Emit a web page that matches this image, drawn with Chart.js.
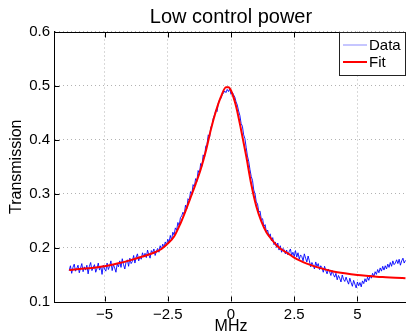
<!DOCTYPE html>
<html>
<head>
<meta charset="utf-8">
<script src="https://cdn.jsdelivr.net/npm/chart.js@4.4.1/dist/chart.umd.min.js"></script>
<style>
  html, body { margin: 0; padding: 0; background: #fff; overflow: hidden; }
  #wrap { width: 406px; height: 336px; overflow: hidden; }
</style>
</head>
<body>
<div id="wrap"><canvas id="lowPower" width="412" height="336"></canvas></div>
<script>
/* measured transmission vs detuning (MHz) */
const dataFreq = [
  -6.40,-6.35,-6.30,-6.25,-6.20,-6.15,-6.10,-6.05,-6.00,-5.95,
  -5.90,-5.85,-5.80,-5.75,-5.70,-5.65,-5.60,-5.55,-5.50,-5.45,
  -5.40,-5.35,-5.30,-5.25,-5.20,-5.15,-5.10,-5.05,-5.00,-4.95,
  -4.90,-4.85,-4.80,-4.75,-4.70,-4.65,-4.60,-4.55,-4.50,-4.45,
  -4.40,-4.35,-4.30,-4.25,-4.20,-4.15,-4.10,-4.05,-4.00,-3.95,
  -3.90,-3.85,-3.80,-3.75,-3.70,-3.65,-3.60,-3.55,-3.50,-3.45,
  -3.40,-3.35,-3.30,-3.25,-3.20,-3.15,-3.10,-3.05,-3.00,-2.95,
  -2.90,-2.85,-2.80,-2.75,-2.70,-2.65,-2.60,-2.55,-2.50,-2.45,
  -2.40,-2.35,-2.30,-2.25,-2.20,-2.15,-2.10,-2.05,-2.00,-1.95,
  -1.90,-1.85,-1.80,-1.75,-1.70,-1.65,-1.60,-1.55,-1.50,-1.45,
  -1.40,-1.35,-1.30,-1.25,-1.20,-1.15,-1.10,-1.05,-1.00,-0.95,
  -0.90,-0.85,-0.80,-0.75,-0.70,-0.65,-0.60,-0.55,-0.50,-0.45,
  -0.40,-0.35,-0.30,-0.25,-0.20,-0.15,-0.10,-0.05,0.00,0.05,
  0.10,0.15,0.20,0.25,0.30,0.35,0.40,0.45,0.50,0.55,
  0.60,0.65,0.70,0.75,0.80,0.85,0.90,0.95,1.00,1.05,
  1.10,1.15,1.20,1.25,1.30,1.35,1.40,1.45,1.50,1.55,
  1.60,1.65,1.70,1.75,1.80,1.85,1.90,1.95,2.00,2.05,
  2.10,2.15,2.20,2.25,2.30,2.35,2.40,2.45,2.50,2.55,
  2.60,2.65,2.70,2.75,2.80,2.85,2.90,2.95,3.00,3.05,
  3.10,3.15,3.20,3.25,3.30,3.35,3.40,3.45,3.50,3.55,
  3.60,3.65,3.70,3.75,3.80,3.85,3.90,3.95,4.00,4.05,
  4.10,4.15,4.20,4.25,4.30,4.35,4.40,4.45,4.50,4.55,
  4.60,4.65,4.70,4.75,4.80,4.85,4.90,4.95,5.00,5.05,
  5.10,5.15,5.20,5.25,5.30,5.35,5.40,5.45,5.50,5.55,
  5.60,5.65,5.70,5.75,5.80,5.85,5.90,5.95,6.00,6.05,
  6.10,6.15,6.20,6.25,6.30,6.35,6.40,6.45,6.50,6.55,
  6.60,6.65,6.70,6.75,6.80,6.85,6.90
];
const dataTrans = [
  .158,.167,.153,.164,.170,.157,.162,.168,.154,.163,
  .171,.156,.165,.159,.168,.152,.166,.173,.158,.164,
  .169,.155,.162,.172,.159,.166,.151,.168,.161,.157,
  .172,.160,.166,.176,.158,.169,.163,.155,.171,.165,
  .176,.164,.180,.169,.161,.174,.178,.166,.181,.171,
  .175,.186,.172,.183,.189,.176,.184,.179,.191,.183,
  .190,.182,.196,.187,.181,.195,.191,.198,.186,.194,
  .199,.192,.204,.197,.207,.201,.211,.205,.216,.210,
  .223,.214,.229,.224,.237,.233,.247,.241,.256,.259,
  .266,.262,.279,.272,.291,.288,.304,.299,.317,.313,
  .328,.323,.343,.337,.356,.351,.372,.366,.388,.391,
  .409,.404,.423,.427,.440,.446,.455,.452,.468,.474,
  .476,.483,.486,.490,.487,.493,.489,.494,.484,.488,
  .483,.479,.470,.464,.453,.445,.430,.425,.409,.402,
  .386,.370,.360,.345,.332,.325,.307,.300,.285,.281,
  .266,.268,.252,.254,.240,.243,.229,.233,.221,.226,
  .213,.219,.206,.211,.201,.209,.196,.204,.192,.199,
  .197,.189,.196,.187,.193,.198,.186,.192,.184,.195,
  .183,.191,.179,.187,.184,.176,.189,.181,.174,.185,
  .176,.165,.173,.168,.161,.174,.166,.171,.160,.167,
  .163,.155,.166,.158,.152,.161,.156,.149,.158,.151,
  .146,.153,.141,.149,.144,.137,.150,.142,.138,.146,
  .139,.133,.144,.136,.129,.140,.133,.126,.137,.130,
  .136,.128,.139,.134,.143,.137,.146,.140,.149,.144,
  .153,.147,.156,.151,.160,.154,.163,.157,.166,.159,
  .167,.161,.170,.164,.173,.166,.176,.169,.172,.178,
  .171,.179,.168,.176,.181,.172,.177
];

/* fitted curve */
const fitFreq = [
  -6.4,-6.0,-5.5,-5.0,-4.5,-4.0,-3.5,-3.0,-2.75,-2.5,
  -2.25,-2.0,-1.8,-1.6,-1.4,-1.2,-1.0,-0.8,-0.6,-0.4,
  -0.2,-0.1,0.0,0.2,0.4,0.6,0.8,1.0,1.2,1.4,
  1.6,1.8,2.0,2.25,2.5,2.75,3.0,3.5,4.0,4.5,
  5.0,5.5,6.0,6.5,6.9
];
const fitTrans = [
  .159,.161,.163,.166,.171,.177,.184,.192,.198,.208,
  .221,.245,.268,.293,.318,.345,.378,.418,.452,.479,
  .497,.497,.491,.462,.418,.370,.318,.277,.249,.229,
  .216,.205,.197,.190,.182,.176,.171,.163,.157,.153,
  .150,.148,.146,.145,.144
];

const xTicks = [-5, -2.5, 0, 2.5, 5];
const yTicks = [0.1, 0.2, 0.3, 0.4, 0.5, 0.6];
const seriesNames = ['Data', 'Fit'];
const titleText = 'Low control power';

const FONT = '"Liberation Sans", Arial, Helvetica, sans-serif';

/* MATLAB-ish frame: top border, inward ticks, boxed legend, centred title */
const matlabFrame = {
    id: 'matlabFrame',
    afterDraw(chart) {
        const ctx = chart.ctx;
        const area = chart.chartArea;
        const xs = chart.scales.x, ys = chart.scales.y;
        const top = Math.round(area.top) + 0.5;
        const bottom = Math.round(area.bottom) - 0.5;
        const left = Math.round(area.left) + 0.5;
        ctx.save();

        ctx.fillStyle = '#000';
        ctx.font = '20px ' + FONT;
        ctx.textAlign = 'center';
        ctx.textBaseline = 'middle';
        ctx.fillText(titleText, (area.left + area.right) / 2, 17);

        ctx.strokeStyle = '#000';
        ctx.lineWidth = 1;
        ctx.beginPath();
        ctx.moveTo(area.left, top);
        ctx.lineTo(area.right, top);
        xTicks.forEach(v => {
            const px = Math.round(xs.getPixelForValue(v)) + 0.5;
            ctx.moveTo(px, bottom); ctx.lineTo(px, bottom - 5);
            ctx.moveTo(px, top); ctx.lineTo(px, top + 5);
        });
        yTicks.forEach(v => {
            const py = Math.round(ys.getPixelForValue(v)) + 0.5;
            ctx.moveTo(left, py); ctx.lineTo(left + 5, py);
        });
        ctx.stroke();

        // legend box, top right inside the axes
        const bx = 339.5, by = 32.5, bw = 66, bh = 43;
        ctx.fillStyle = '#fff';
        ctx.fillRect(bx, by, bw, bh);
        ctx.strokeStyle = '#222';
        ctx.strokeRect(bx, by, bw, bh);
        const rows = [45, 62];
        ctx.textAlign = 'left';
        chart.data.datasets.forEach((ds, i) => {
            ctx.beginPath();
            ctx.strokeStyle = ds.borderColor;
            ctx.lineWidth = i === 0 ? 1 : 2;
            if (i === 0) ctx.globalAlpha = 0.45;
            ctx.moveTo(343, rows[i]);
            ctx.lineTo(367, rows[i]);
            ctx.stroke();
            ctx.globalAlpha = 1;
            ctx.fillStyle = '#000';
            ctx.font = '15px ' + FONT;
            ctx.fillText(ds.label, 369, rows[i] + 0.5);
        });
        ctx.restore();
    }
};

new Chart(document.getElementById('lowPower'), {
    type: 'line',
    data: {
        datasets: [{
            label: seriesNames[0],
            data: dataFreq.map((f, i) => ({ x: f, y: dataTrans[i] })),
            borderColor: '#0000ff',
            borderWidth: 0.9,
            pointRadius: 0,
            order: 1
        }, {
            label: seriesNames[1],
            data: fitFreq.map((f, i) => ({ x: f, y: fitTrans[i] })),
            borderColor: '#ff0000',
            borderWidth: 2,
            pointRadius: 0,
            cubicInterpolationMode: 'monotone',
            order: 0
        }]
    },
    options: {
        responsive: false,
        animation: false,
        devicePixelRatio: 1,
        layout: { padding: { left: 0, right: 4, top: 31.5, bottom: 0 } },
        plugins: {
            legend: { display: false },
            tooltip: { enabled: false },
            title: { display: false }
        },
        scales: {
            x: {
                type: 'linear',
                min: -7,
                max: 7,
                afterBuildTicks: s => { s.ticks = xTicks.map(v => ({ value: v })); },
                afterFit: s => { s.height = 34; },
                ticks: {
                    color: '#000',
                    padding: 4,
                    maxRotation: 0,
                    font: { family: FONT, size: 15 },
                    callback: v => (v < 0 ? '\u2212' + Math.abs(v) : String(v))
                },
                grid: { color: 'rgba(0,0,0,0.3)', drawTicks: false },
                border: { color: '#000', width: 1, dash: [1, 3] },
                title: {
                    display: true,
                    text: 'MHz',
                    color: '#000',
                    font: { family: FONT, size: 16 },
                    padding: { top: 0, bottom: 0 }
                }
            },
            y: {
                min: 0.1,
                max: 0.6,
                afterBuildTicks: s => { s.ticks = yTicks.map(v => ({ value: v })); },
                afterFit: s => { s.width = 54; },
                ticks: {
                    color: '#000',
                    padding: 4,
                    font: { family: FONT, size: 15 },
                    callback: v => v.toFixed(1)
                },
                grid: { color: 'rgba(0,0,0,0.3)', drawTicks: false },
                border: { color: '#000', width: 1, dash: [1, 3] },
                title: {
                    display: true,
                    text: 'Transmission',
                    color: '#000',
                    font: { family: FONT, size: 16 },
                    padding: { top: 7, bottom: 0 }
                }
            }
        }
    },
    plugins: [matlabFrame]
});
</script>
</body>
</html>
